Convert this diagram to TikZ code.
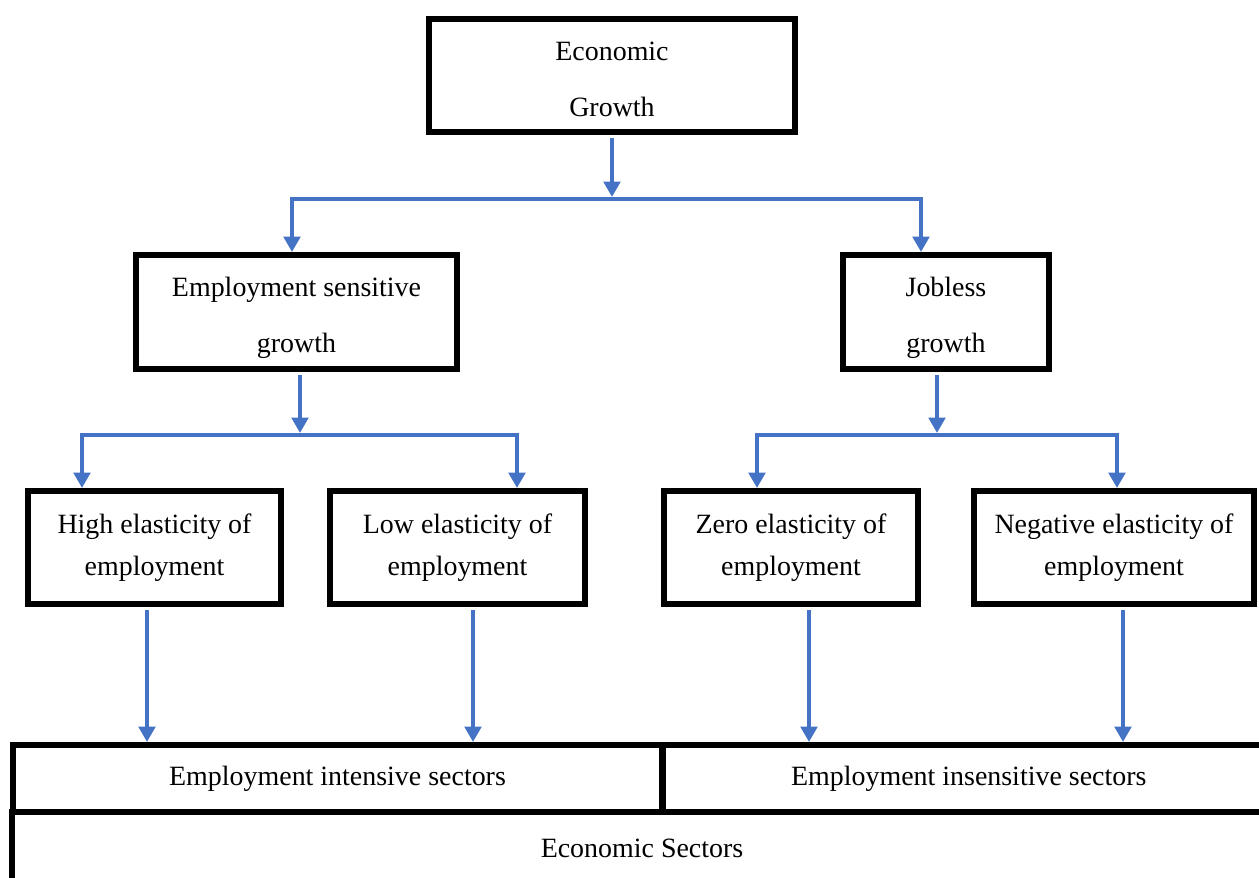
\documentclass[tikz,border=0pt]{standalone}
\usepackage{fontspec}
\setmainfont{Liberation Serif}
\usetikzlibrary{arrows.meta}
\definecolor{blueline}{HTML}{4472C4}
\newcommand{\toplift}{\rule{0pt}{18pt}}

\begin{document}
\begin{tikzpicture}[x=0.02cm, y=-0.02cm,
	box/.style={draw, line width=0.12cm, fill=white, align=center, inner sep=0pt},
	wide/.style={font=\fontsize{15.9}{32}\selectfont, minimum height=2.28cm},
	slim/.style={font=\fontsize{15.9}{23.8}\selectfont, minimum height=2.26cm},
	band/.style={font=\fontsize{15.9}{18}\selectfont},
	link/.style={blueline, line width=0.085cm},
	arr/.style={link, -{Triangle[width=0.33cm, length=0.31cm]}, shorten <=0.06cm},
	fork/.style={link, line join=miter, {Triangle[width=0.33cm, length=0.31cm]}-{Triangle[width=0.33cm, length=0.31cm]}},
	]
	\useasboundingbox (0,0) rectangle (1259,877);
	\clip (0,0) rectangle (1259,877);
	\node[box, wide, minimum width=7.32cm, minimum height=2.26cm] (eg) at (612,75.5) {\toplift Economic\\Growth\vphantom{g}};
	\node[box, wide, minimum width=6.42cm] (esg) at (296.5,312) {\toplift Employment sensitive\\growth};
	\node[box, wide, minimum width=4.12cm] (jg) at (946,312) {\toplift Jobless\\growth};
	\node[box, slim, minimum width=5.06cm] (he) at (154.5,547.5) {High elasticity of\\employment};
	\node[box, slim, minimum width=5.10cm] (le) at (457.5,547.5) {Low elasticity of\\employment};
	\node[box, slim, minimum width=5.08cm] (ze) at (791,547.5) {Zero elasticity of\\employment};
	\node[box, slim, minimum width=5.60cm] (ne) at (1114,547.5) {Negative elasticity of\\employment};
	\node[box, band, minimum width=13cm, minimum height=1.34cm] (eis) at (337.5,778.5) {Employment intensive sectors};
	\node[box, band, minimum width=12.25cm, minimum height=1.34cm] (ens) at (968.75,778.5) {Employment insensitive sectors};
	\node[box, band, minimum width=25.19cm, minimum height=1.44cm] (es) at (642,848) {Economic Sectors};

	\coordinate (j1) at (612,199);
	\coordinate (j1l) at (292,199);
	\coordinate (j1r) at (921,199);
	\draw[arr, shorten >=0.04cm] (eg.south) -- (j1);
	\draw[fork] (esg.north -| j1l) -- (j1l) -- (j1r) -- (jg.north -| j1r);

	\coordinate (j2) at (300,435);
	\coordinate (j2l) at (82,435);
	\coordinate (j2r) at (517,435);
	\draw[arr, shorten >=0.04cm] (esg.south -| j2) -- (j2);
	\draw[fork] (he.north -| j2l) -- (j2l) -- (j2r) -- (le.north -| j2r);

	\coordinate (j3) at (937,435);
	\coordinate (j3l) at (757,435);
	\coordinate (j3r) at (1117,435);
	\draw[arr, shorten >=0.04cm] (jg.south -| j3) -- (j3);
	\draw[fork] (ze.north -| j3l) -- (j3l) -- (j3r) -- (ne.north -| j3r);

	\coordinate (c1) at (147,0);
	\coordinate (c2) at (473,0);
	\coordinate (c3) at (809,0);
	\coordinate (c4) at (1123,0);
	\draw[arr] (he.south -| c1) -- (eis.north -| c1);
	\draw[arr] (le.south -| c2) -- (eis.north -| c2);
	\draw[arr] (ze.south -| c3) -- (ens.north -| c3);
	\draw[arr] (ne.south -| c4) -- (ens.north -| c4);
\end{tikzpicture}
\end{document}
